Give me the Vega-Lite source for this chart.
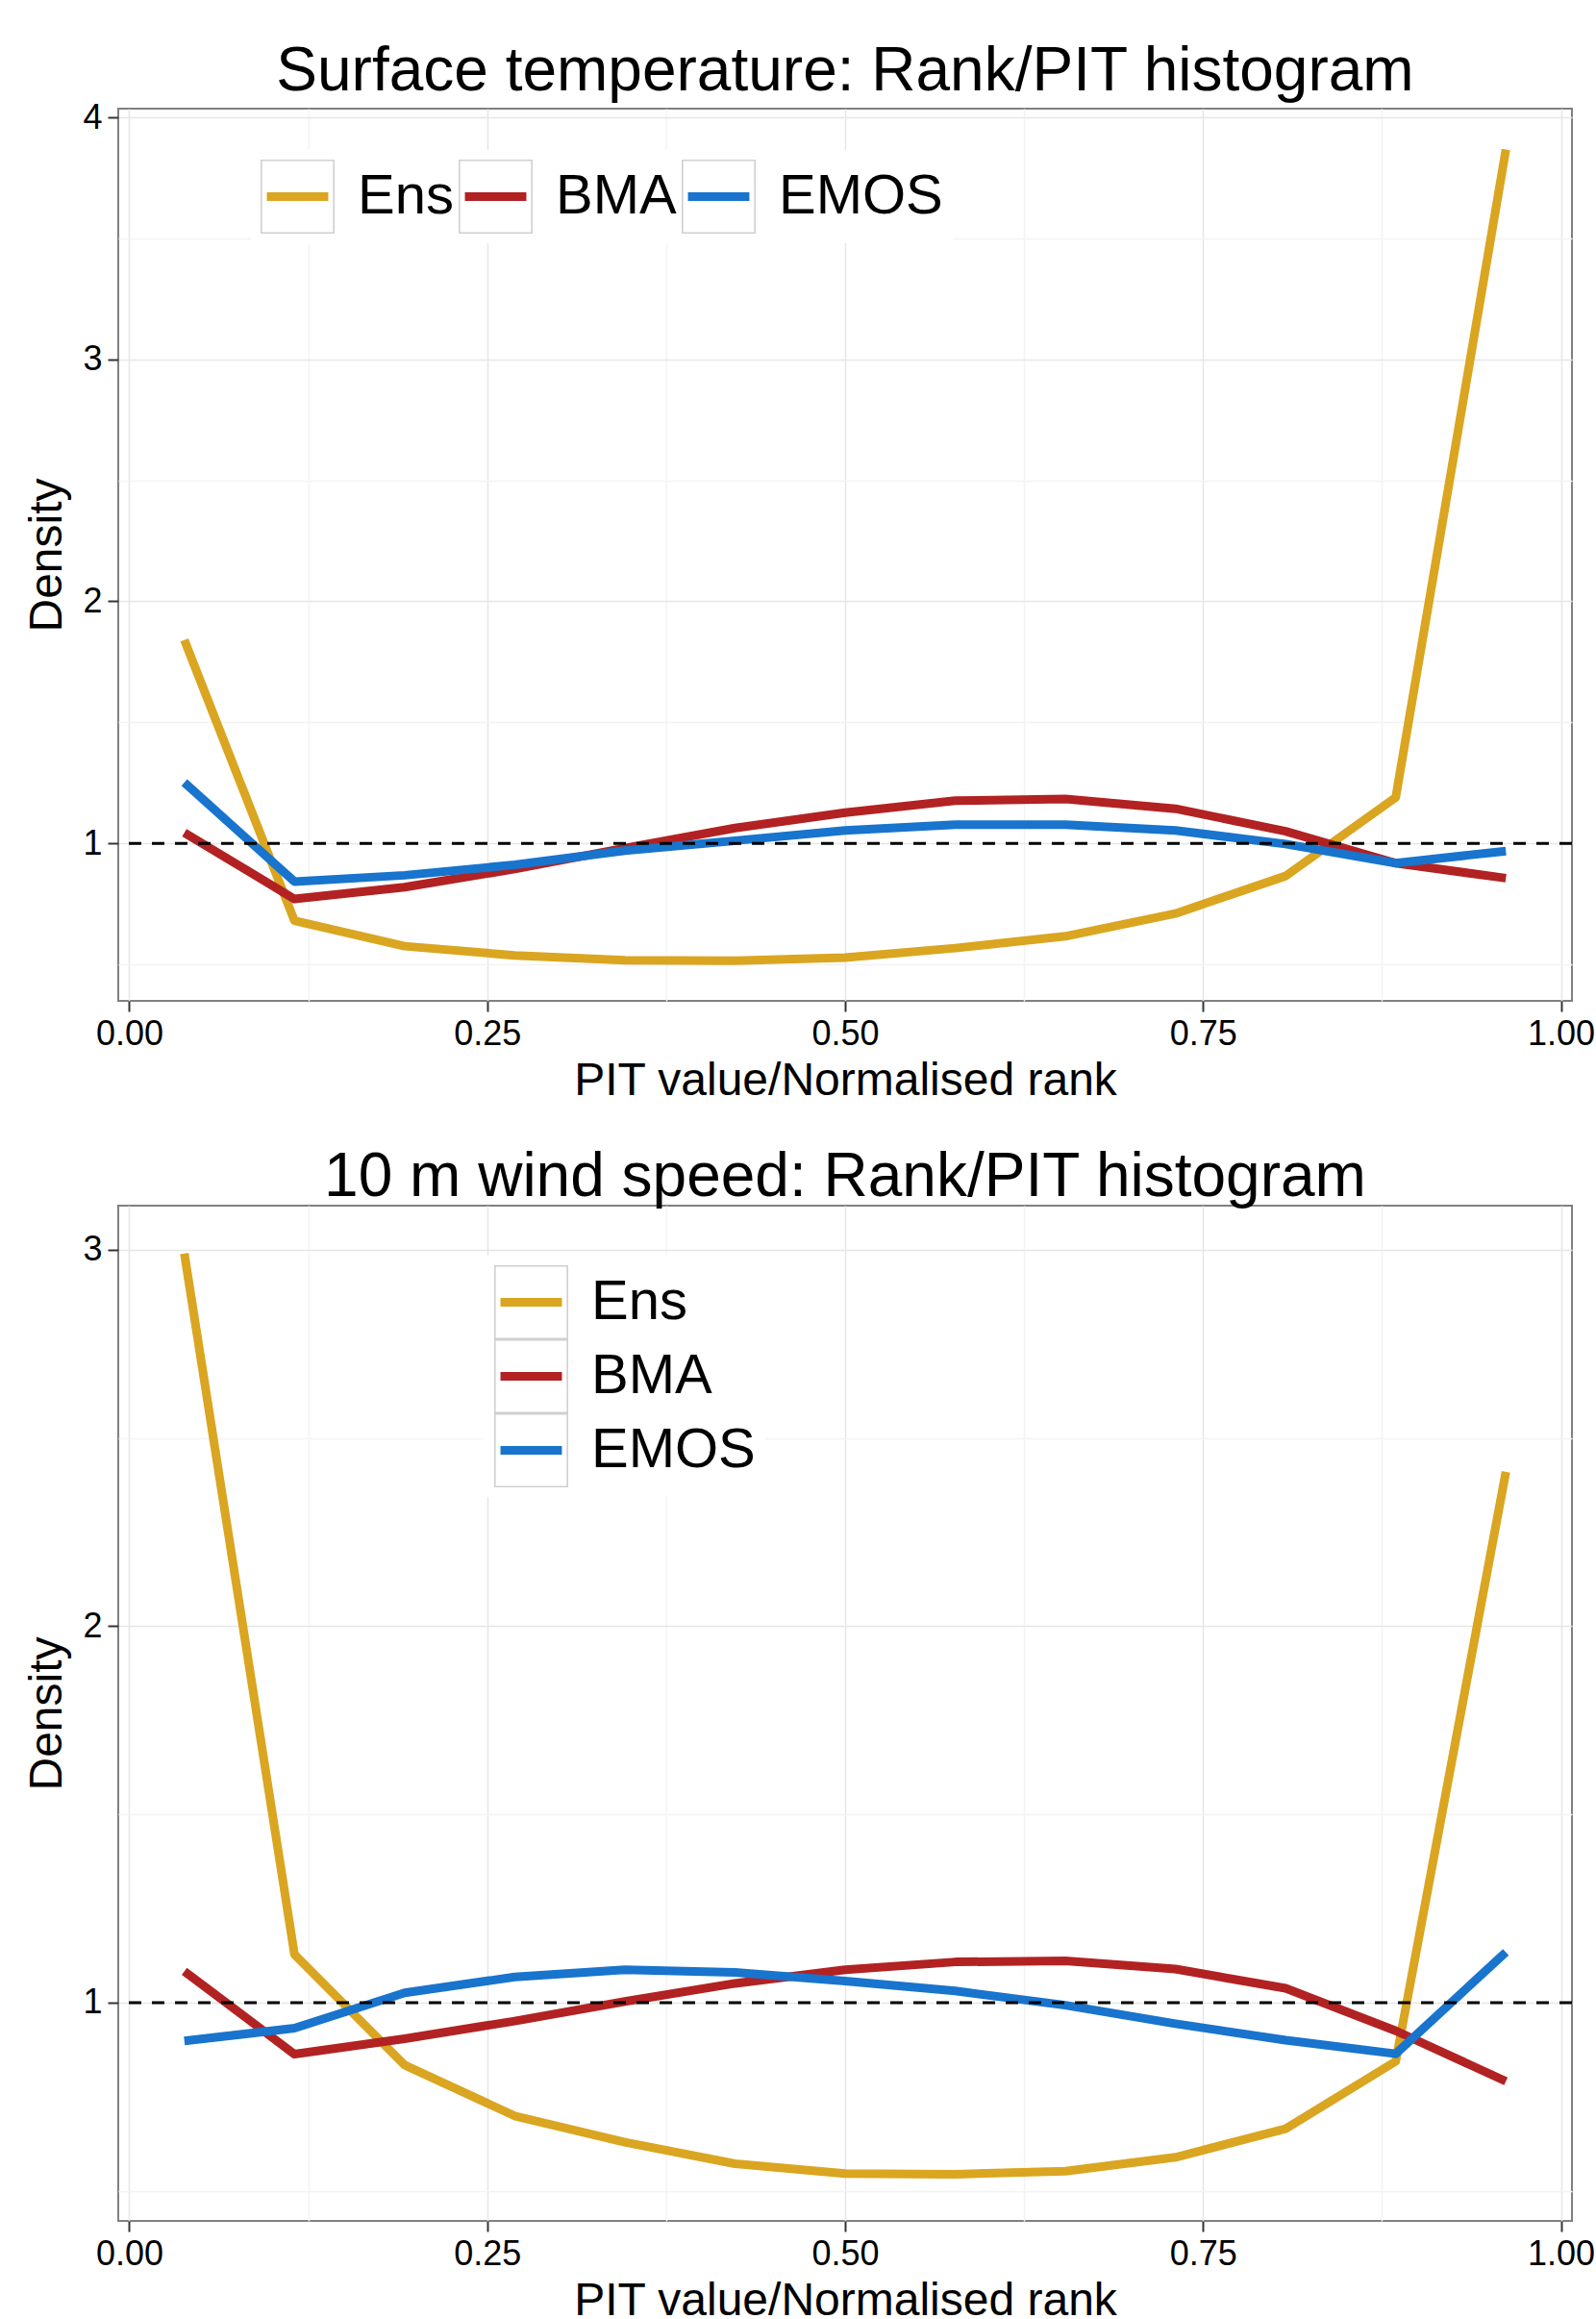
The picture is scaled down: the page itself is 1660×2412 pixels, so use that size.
{
  "$schema": "https://vega.github.io/schema/vega-lite/v6.json",
  "background": "white",
  "padding": {"left": 24, "top": 42, "right": 0, "bottom": 0},
  "spacing": 43,
  "config": {
    "font": "Liberation Sans",
    "view": {"stroke": "#808080", "strokeWidth": 2},
    "axis": {
      "domain": false,
      "tickColor": "#333333",
      "tickSize": 11,
      "tickWidth": 2,
      "labelFont": "Liberation Sans",
      "labelFontSize": 36,
      "labelColor": "#000000",
      "labelPadding": 6,
      "labelOverlap": false,
      "titleFont": "Liberation Sans",
      "titleFontSize": 48,
      "titleFontWeight": "normal",
      "titleColor": "#000000",
      "gridWidth": 1.5
    },
    "axisX": {"titlePadding": 7, "labelFlush": false},
    "axisY": {"titlePadding": 12},
    "title": {
      "font": "Liberation Sans",
      "fontSize": 64,
      "fontWeight": "normal",
      "color": "#000000",
      "anchor": "middle",
      "baseline": "alphabetic",
      "offset": -3
    },
    "legend": {
      "title": null,
      "labelFont": "Liberation Sans",
      "labelFontSize": 58,
      "labelColor": "#000000",
      "labelOffset": 24,
      "labelLimit": 0,
      "padding": 10,
      "symbolSize": 5929,
      "symbolStrokeWidth": 0,
      "symbolOpacity": 1,
      "orient": "none"
    }
  },
  "datasets": {
    "temp": [
      {"model": "Ens", "x": 0.03846, "y": 1.84},
      {"model": "Ens", "x": 0.11538, "y": 0.68},
      {"model": "Ens", "x": 0.19231, "y": 0.575},
      {"model": "Ens", "x": 0.26923, "y": 0.537},
      {"model": "Ens", "x": 0.34615, "y": 0.517},
      {"model": "Ens", "x": 0.42308, "y": 0.515},
      {"model": "Ens", "x": 0.5, "y": 0.528},
      {"model": "Ens", "x": 0.57692, "y": 0.567},
      {"model": "Ens", "x": 0.65385, "y": 0.616},
      {"model": "Ens", "x": 0.73077, "y": 0.71},
      {"model": "Ens", "x": 0.80769, "y": 0.865},
      {"model": "Ens", "x": 0.88462, "y": 1.19},
      {"model": "Ens", "x": 0.96154, "y": 3.867},
      {"model": "BMA", "x": 0.03846, "y": 1.044},
      {"model": "BMA", "x": 0.11538, "y": 0.77},
      {"model": "BMA", "x": 0.19231, "y": 0.819},
      {"model": "BMA", "x": 0.26923, "y": 0.894},
      {"model": "BMA", "x": 0.34615, "y": 0.98},
      {"model": "BMA", "x": 0.42308, "y": 1.063},
      {"model": "BMA", "x": 0.5, "y": 1.127},
      {"model": "BMA", "x": 0.57692, "y": 1.176},
      {"model": "BMA", "x": 0.65385, "y": 1.183},
      {"model": "BMA", "x": 0.73077, "y": 1.143},
      {"model": "BMA", "x": 0.80769, "y": 1.05},
      {"model": "BMA", "x": 0.88462, "y": 0.918},
      {"model": "BMA", "x": 0.96154, "y": 0.856},
      {"model": "EMOS", "x": 0.03846, "y": 1.251},
      {"model": "EMOS", "x": 0.11538, "y": 0.842},
      {"model": "EMOS", "x": 0.19231, "y": 0.868},
      {"model": "EMOS", "x": 0.26923, "y": 0.911},
      {"model": "EMOS", "x": 0.34615, "y": 0.97},
      {"model": "EMOS", "x": 0.42308, "y": 1.011},
      {"model": "EMOS", "x": 0.5, "y": 1.053},
      {"model": "EMOS", "x": 0.57692, "y": 1.077},
      {"model": "EMOS", "x": 0.65385, "y": 1.077},
      {"model": "EMOS", "x": 0.73077, "y": 1.053},
      {"model": "EMOS", "x": 0.80769, "y": 0.997},
      {"model": "EMOS", "x": 0.88462, "y": 0.918},
      {"model": "EMOS", "x": 0.96154, "y": 0.968}
    ],
    "wind": [
      {"model": "Ens", "x": 0.03846, "y": 2.99},
      {"model": "Ens", "x": 0.11538, "y": 1.128},
      {"model": "Ens", "x": 0.19231, "y": 0.834},
      {"model": "Ens", "x": 0.26923, "y": 0.699},
      {"model": "Ens", "x": 0.34615, "y": 0.629},
      {"model": "Ens", "x": 0.42308, "y": 0.572},
      {"model": "Ens", "x": 0.5, "y": 0.546},
      {"model": "Ens", "x": 0.57692, "y": 0.544},
      {"model": "Ens", "x": 0.65385, "y": 0.552},
      {"model": "Ens", "x": 0.73077, "y": 0.589},
      {"model": "Ens", "x": 0.80769, "y": 0.665},
      {"model": "Ens", "x": 0.88462, "y": 0.844},
      {"model": "Ens", "x": 0.96154, "y": 2.41},
      {"model": "BMA", "x": 0.03846, "y": 1.083},
      {"model": "BMA", "x": 0.11538, "y": 0.863},
      {"model": "BMA", "x": 0.19231, "y": 0.904},
      {"model": "BMA", "x": 0.26923, "y": 0.951},
      {"model": "BMA", "x": 0.34615, "y": 1.003},
      {"model": "BMA", "x": 0.42308, "y": 1.051},
      {"model": "BMA", "x": 0.5, "y": 1.087},
      {"model": "BMA", "x": 0.57692, "y": 1.108},
      {"model": "BMA", "x": 0.65385, "y": 1.111},
      {"model": "BMA", "x": 0.73077, "y": 1.089},
      {"model": "BMA", "x": 0.80769, "y": 1.038},
      {"model": "BMA", "x": 0.88462, "y": 0.925},
      {"model": "BMA", "x": 0.96154, "y": 0.791},
      {"model": "EMOS", "x": 0.03846, "y": 0.898},
      {"model": "EMOS", "x": 0.11538, "y": 0.932},
      {"model": "EMOS", "x": 0.19231, "y": 1.026},
      {"model": "EMOS", "x": 0.26923, "y": 1.068},
      {"model": "EMOS", "x": 0.34615, "y": 1.087},
      {"model": "EMOS", "x": 0.42308, "y": 1.08},
      {"model": "EMOS", "x": 0.5, "y": 1.057},
      {"model": "EMOS", "x": 0.57692, "y": 1.031},
      {"model": "EMOS", "x": 0.65385, "y": 0.993},
      {"model": "EMOS", "x": 0.73077, "y": 0.944},
      {"model": "EMOS", "x": 0.80769, "y": 0.9},
      {"model": "EMOS", "x": 0.88462, "y": 0.864},
      {"model": "EMOS", "x": 0.96154, "y": 1.134}
    ]
  },
  "resolve": {
    "scale": {"stroke": "independent", "fill": "independent", "shape": "independent", "y": "independent"},
    "legend": {"stroke": "independent", "fill": "independent", "shape": "independent"}
  },
  "vconcat": [
    {
      "title": {"text": "Surface temperature: Rank/PIT histogram"},
      "width": 1512,
      "height": 928,
      "data": {"name": "temp"},
      "layer": [
        {
          "mark": {"type": "line", "strokeWidth": 9, "strokeCap": "butt", "strokeJoin": "round"},
          "encoding": {
            "x": {
              "field": "x", "type": "quantitative",
              "scale": {"domain": [-0.0077, 1.0077], "nice": false, "zero": false},
              "axis": {
                "title": "PIT value/Normalised rank",
                "values": [0, 0.125, 0.25, 0.375, 0.5, 0.625, 0.75, 0.875, 1],
                "labelExpr": "(datum.value*8)%2 == 1 ? '' : format(datum.value, '.2f')",
                "tickOpacity": {"condition": {"test": "(datum.value*8)%2 == 1", "value": 0}, "value": 1},
                "gridColor": {"condition": {"test": "(datum.value*8)%2 == 1", "value": "#f3f3f3"}, "value": "#e6e6e6"}
              }
            },
            "y": {
              "field": "y", "type": "quantitative",
              "scale": {"domain": [0.349, 4.036], "nice": false, "zero": false},
              "axis": {
                "title": "Density",
                "values": [0.5, 1, 1.5, 2, 2.5, 3, 3.5, 4],
                "labelExpr": "(datum.value*2)%2 == 1 ? '' : format(datum.value, 'd')",
                "tickOpacity": {"condition": {"test": "(datum.value*2)%2 == 1", "value": 0}, "value": 1},
                "gridColor": {"condition": {"test": "(datum.value*2)%2 == 1", "value": "#f3f3f3"}, "value": "#e6e6e6"}
              }
            },
            "stroke": {
              "field": "model", "type": "nominal",
              "scale": {"domain": ["Ens", "BMA", "EMOS"], "range": ["#DAA520", "#B22222", "#1874CD"]},
              "legend": null
            }
          }
        },
        {
          "data": {"values": [{}]},
          "mark": {"type": "rule", "color": "#000000", "strokeWidth": 3, "strokeDash": [13, 11]},
          "encoding": {"y": {"datum": 1}}
        },
        {
          "transform": [{"filter": "datum.y > 100"}],
          "mark": {"type": "point", "filled": true, "opacity": 1, "strokeWidth": 0, "shape": "M-1,-1L-1,-1ZM1,1L1,1ZM-0.83,-0.117H0.83V0.117H-0.83Z"},
          "encoding": {
            "x": {"field": "x", "type": "quantitative"},
            "y": {"field": "y", "type": "quantitative"},
            "fill": {
              "field": "model", "type": "nominal",
              "scale": {"domain": ["E", "B", "M"], "range": ["#DAA520", "#B22222", "#1874CD"]},
              "legend": {
                "direction": "horizontal",
                "columns": 3,
                "legendX": 138,
                "legendY": 43,
                "fillColor": "#ffffff",
                "columnPadding": 5,
                "labelExpr": "datum.label == 'E' ? 'Ens' : datum.label == 'B' ? 'BMA' : 'EMOS'",
                "symbolType": "M-1,-1L-1,-1ZM1,1L1,1ZM-0.83,-0.117H0.83V0.117H-0.83Z"
              }
            }
          }
        },
        {
          "transform": [{"filter": "datum.y > 100"}],
          "mark": {"type": "point", "filled": true, "color": "#d0d0d0", "opacity": 1, "strokeWidth": 0},
          "encoding": {
            "x": {"field": "x", "type": "quantitative"},
            "y": {"field": "y", "type": "quantitative"},
            "shape": {
              "field": "model", "type": "nominal",
              "scale": {
                "domain": ["e", "b", "m"],
                "range": [
                  "M-1,-1H1V1H-1ZM-0.958,-0.958V0.958H0.958V-0.958Z",
                  "M-1,-1H1V1H-1ZM-0.958,-0.958V0.958H0.958V-0.958Z",
                  "M-1,-1H1V1H-1ZM-0.958,-0.958V0.958H0.958V-0.958Z"
                ]
              },
              "legend": {
                "direction": "horizontal",
                "columns": 3,
                "legendX": 138,
                "legendY": 43,
                "columnPadding": 5,
                "labelOpacity": 0,
                "labelExpr": "datum.label == 'e' ? 'Ens' : datum.label == 'b' ? 'BMA' : 'EMOS'",
                "symbolFillColor": "#d0d0d0"
              }
            }
          }
        }
      ]
    },
    {
      "title": {"text": "10 m wind speed: Rank/PIT histogram"},
      "width": 1512,
      "height": 1056,
      "data": {"name": "wind"},
      "layer": [
        {
          "mark": {"type": "line", "strokeWidth": 9, "strokeCap": "butt", "strokeJoin": "round"},
          "encoding": {
            "x": {
              "field": "x", "type": "quantitative",
              "scale": {"domain": [-0.0077, 1.0077], "nice": false, "zero": false},
              "axis": {
                "title": "PIT value/Normalised rank",
                "values": [0, 0.125, 0.25, 0.375, 0.5, 0.625, 0.75, 0.875, 1],
                "labelExpr": "(datum.value*8)%2 == 1 ? '' : format(datum.value, '.2f')",
                "tickOpacity": {"condition": {"test": "(datum.value*8)%2 == 1", "value": 0}, "value": 1},
                "gridColor": {"condition": {"test": "(datum.value*8)%2 == 1", "value": "#f3f3f3"}, "value": "#e6e6e6"}
              }
            },
            "y": {
              "field": "y", "type": "quantitative",
              "scale": {"domain": [0.42, 3.117], "nice": false, "zero": false},
              "axis": {
                "title": "Density",
                "values": [0.5, 1, 1.5, 2, 2.5, 3],
                "labelExpr": "(datum.value*2)%2 == 1 ? '' : format(datum.value, 'd')",
                "tickOpacity": {"condition": {"test": "(datum.value*2)%2 == 1", "value": 0}, "value": 1},
                "gridColor": {"condition": {"test": "(datum.value*2)%2 == 1", "value": "#f3f3f3"}, "value": "#e6e6e6"}
              }
            },
            "stroke": {
              "field": "model", "type": "nominal",
              "scale": {"domain": ["Ens", "BMA", "EMOS"], "range": ["#DAA520", "#B22222", "#1874CD"]},
              "legend": null
            }
          }
        },
        {
          "data": {"values": [{}]},
          "mark": {"type": "rule", "color": "#000000", "strokeWidth": 3, "strokeDash": [13, 11]},
          "encoding": {"y": {"datum": 1}}
        },
        {
          "transform": [{"filter": "datum.y > 100"}],
          "mark": {"type": "point", "filled": true, "opacity": 1, "strokeWidth": 0, "shape": "M-1,-1L-1,-1ZM1,1L1,1ZM-0.83,-0.117H0.83V0.117H-0.83Z"},
          "encoding": {
            "x": {"field": "x", "type": "quantitative"},
            "y": {"field": "y", "type": "quantitative"},
            "fill": {
              "field": "model", "type": "nominal",
              "scale": {"domain": ["E", "B", "M"], "range": ["#DAA520", "#B22222", "#1874CD"]},
              "legend": {
                "direction": "vertical",
                "columns": 1,
                "legendX": 381,
                "legendY": 52,
                "fillColor": "#ffffff",
                "rowPadding": 0,
                "labelExpr": "datum.label == 'E' ? 'Ens' : datum.label == 'B' ? 'BMA' : 'EMOS'",
                "symbolType": "M-1,-1L-1,-1ZM1,1L1,1ZM-0.83,-0.117H0.83V0.117H-0.83Z"
              }
            }
          }
        },
        {
          "transform": [{"filter": "datum.y > 100"}],
          "mark": {"type": "point", "filled": true, "color": "#d0d0d0", "opacity": 1, "strokeWidth": 0},
          "encoding": {
            "x": {"field": "x", "type": "quantitative"},
            "y": {"field": "y", "type": "quantitative"},
            "shape": {
              "field": "model", "type": "nominal",
              "scale": {
                "domain": ["e", "b", "m"],
                "range": [
                  "M-1,-1H1V1H-1ZM-0.958,-0.958V0.958H0.958V-0.958Z",
                  "M-1,-1H1V1H-1ZM-0.958,-0.958V0.958H0.958V-0.958Z",
                  "M-1,-1H1V1H-1ZM-0.958,-0.958V0.958H0.958V-0.958Z"
                ]
              },
              "legend": {
                "direction": "vertical",
                "columns": 1,
                "legendX": 381,
                "legendY": 52,
                "rowPadding": 0,
                "labelOpacity": 0,
                "labelExpr": "datum.label == 'e' ? 'Ens' : datum.label == 'b' ? 'BMA' : 'EMOS'",
                "symbolFillColor": "#d0d0d0"
              }
            }
          }
        }
      ]
    }
  ]
}
